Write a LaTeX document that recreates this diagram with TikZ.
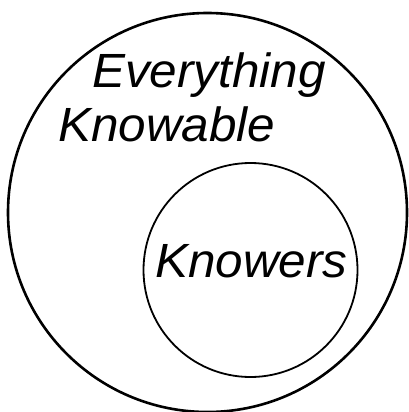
\documentclass[tikz,border=0pt]{standalone}
\usepackage{fontspec}
\setmainfont{Liberation Sans}[FakeStretch=1.03]
\usepackage{tikz}
\usetikzlibrary{positioning}
\tikzset{
  set/.style={draw,circle,inner sep=0pt},
  label text/.style={anchor=base west,inner sep=0pt,font=\fontsize{48}{50}\selectfont\itshape}
}

\begin{document}
\begin{tikzpicture}[x=1pt,y=-1pt]
\useasboundingbox (0,0) rectangle (409,412);
% Sets
\node[set,line width=2.6pt,minimum size=399pt] (knowable) at (207.5,212.5) {};
\node[set,line width=1.8pt,minimum size=214pt] (knowers) at (250.5,270) {};
% Labels
\node[label text] (everything) at (92,87) {Everything};
\node[label text] (knowabletext) at (58,141) {Knowable};
\node[label text] (knowerstext) at (155,277) {Knowers};
\end{tikzpicture}
\end{document}
